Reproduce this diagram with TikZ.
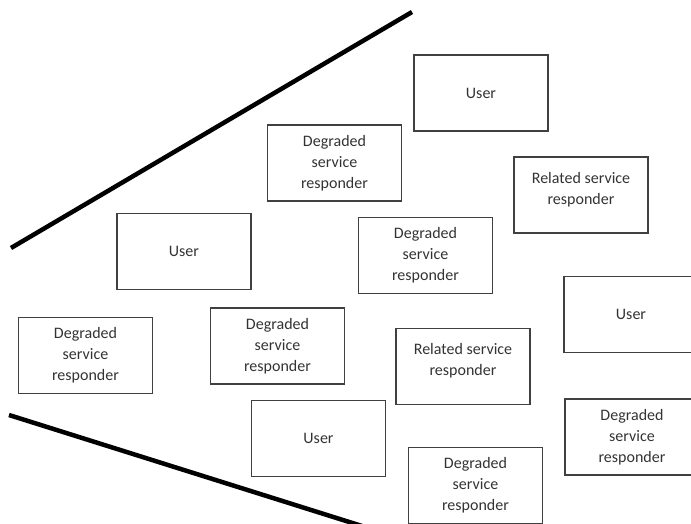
\documentclass[tikz,border=0pt]{standalone}
\usepackage{fontspec}
\setmainfont{Carlito}
\begin{document}
\begin{tikzpicture}[x=1pt, y=-1pt,
  box/.style={draw=black!75, line width=1.8pt, minimum width=134pt, minimum height=76pt,
    align=center, text=black!80, font=\fontsize{16}{21}\selectfont, inner sep=2pt},
  edge/.style={line width=4.5pt, black}]
\useasboundingbox (0,0) rectangle (691,523);
% Draw the two boundary lines
\coordinate (t1) at (11,248);
\coordinate (t2) at (412,12);
\coordinate (b1) at (9,415);
\coordinate (b2) at (362,526);
\draw[edge] (t1) -- (t2);
\draw[edge] (b1) -- (b2);
% Draw the user boxes
\node[box] (user1) at (481,93) {User};
\node[box] (user2) at (184,251.5) {User};
\node[box] (user3) at (631,314.5) {User};
\node[box] (user4) at (318.5,438.5) {User};
% Draw the degraded service responders
\node[box] (deg1) at (334.5,163) {Degraded\\service\\responder};
\node[box] (deg2) at (425.5,255.5) {Degraded\\service\\responder};
\node[box] (deg3) at (85.5,355.5) {Degraded\\service\\responder};
\node[box] (deg4) at (277.5,346) {Degraded\\service\\responder};
\node[box] (deg5) at (632,437) {Degraded\\service\\responder};
\node[box] (deg6) at (475.5,485.5) {Degraded\\service\\responder};
% Draw the related service responders
\node[box, text depth=14pt] (rel1) at (581,195) {Related service\\responder};
\node[box, text depth=14pt] (rel2) at (463,366.5) {Related service\\responder};
\end{tikzpicture}
\end{document}
